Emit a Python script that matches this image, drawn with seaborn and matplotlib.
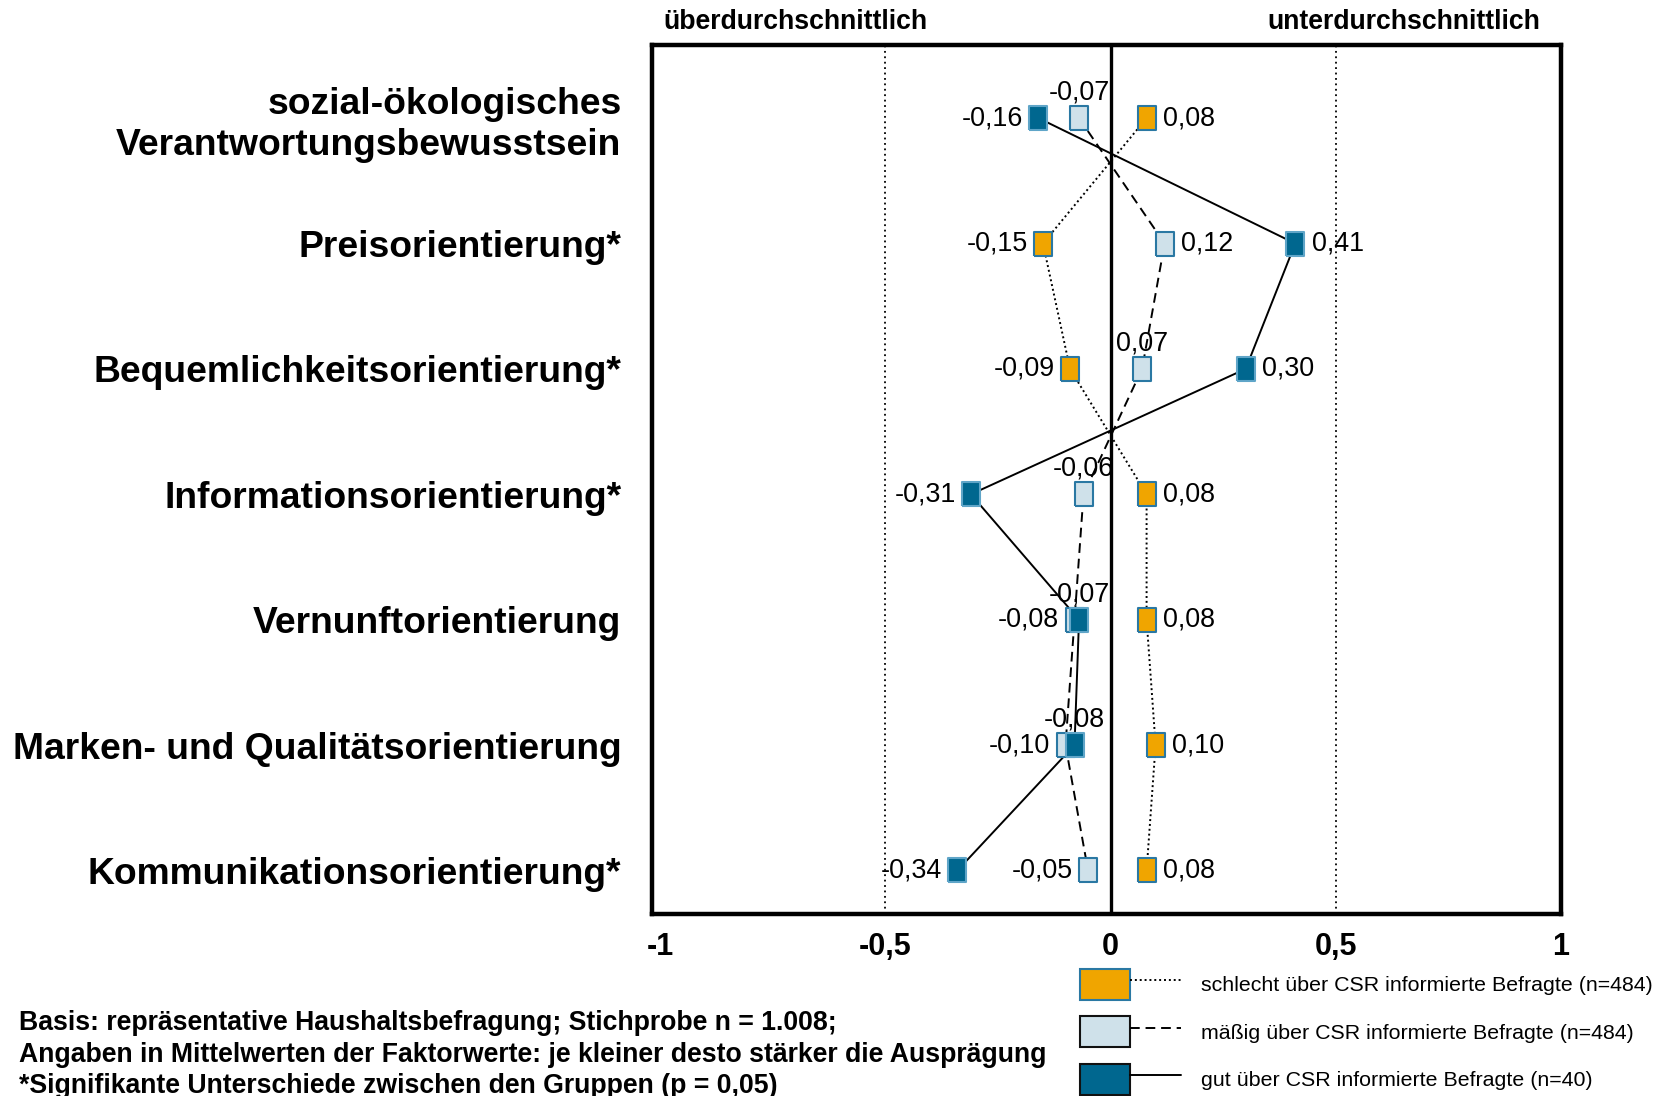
import numpy as np
import pandas as pd
import matplotlib
matplotlib.use("Agg")
import matplotlib.pyplot as plt
import seaborn as sns
from matplotlib.patches import Patch
from matplotlib.lines import Line2D
from matplotlib.legend_handler import HandlerTuple

# ---------------- data ----------------
categories = [
    "sozial-ökologisches\nVerantwortungsbewusstsein",
    "Preisorientierung*",
    "Bequemlichkeitsorientierung*",
    "Informationsorientierung*",
    "Vernunftorientierung",
    "Marken- und Qualitätsorientierung",
    "Kommunikationsorientierung*",
]
schlecht = [0.08, -0.15, -0.09, 0.08, 0.08, 0.10, 0.08]
maessig = [-0.07, 0.12, 0.07, -0.06, -0.08, -0.10, -0.05]
gut = [-0.16, 0.41, 0.30, -0.31, -0.07, -0.08, -0.34]

series_names = [
    "schlecht über CSR informierte Befragte (n=484)",
    "mäßig über CSR informierte Befragte (n=484)",
    "gut über CSR informierte Befragte (n=40)",
]
# label placement per value: l = left, r = right, t = above
place_schlecht = ["r", "l", "l", "r", "r", "r", "r"]
place_maessig = ["t", "r", "t", "t", "l", "l", "l"]
place_gut = ["l", "r", "r", "l", "t", "t", "l"]

xticks = [-1, -0.5, 0, 0.5, 1]
xtick_labels = ["-1", "-0,5", "0", "0,5", "1"]

# ---------------- style ----------------
fill_colors = ["#F0A500", "#CFE1EA", "#00678F"]
edge_colors = ["#2A78A3", "#2A78A3", "#5FA5C8"]
line_styles = [(0, (1, 1.5)), (0, (5, 3)), "-"]
legend_edges = ["#2A78A3", "#111111", "#111111"]

sns.set_theme(style="white")
plt.rcParams["font.family"] = ["Liberation Sans", "DejaVu Sans"]
for key in ["text.color", "axes.labelcolor", "xtick.color", "ytick.color"]:
    plt.rcParams[key] = "black"

fig = plt.figure(figsize=(16.6, 10.96), dpi=100)
ax = fig.add_axes([652 / 1660, 1 - 914 / 1096, (1561 - 652) / 1660, (914 - 45) / 1096])

rows = []
for name, vals in zip(series_names, [schlecht, maessig, gut]):
    for i, v in enumerate(vals):
        rows.append({"group": name, "value": v, "pos": i})
df = pd.DataFrame(rows)

verts = [(-0.37, -0.5), (0.37, -0.5), (0.37, 0.5), (-0.37, 0.5), (-0.37, -0.5)]

# reference lines
ax.axvline(0, color="black", lw=2.4, zorder=1)
for xv in (-0.5, 0.5):
    ax.axvline(xv, color="black", lw=1.3, ls=(0, (1, 2)), zorder=1)

for k, name in enumerate(series_names):
    sub = df[df["group"] == name]
    sns.lineplot(data=sub, x="value", y="pos", orient="y", sort=False,
                 color="black", lw=1.4, linestyle=line_styles[k], ax=ax,
                 zorder=2, legend=False, estimator=None)
for k, name in enumerate(series_names):
    sub = df[df["group"] == name]
    sns.scatterplot(data=sub, x="value", y="pos", marker=verts, s=320,
                    color=fill_colors[k], edgecolor=edge_colors[k],
                    linewidth=1.5, ax=ax, zorder=4, legend=False)

# value labels
def fmt(v):
    return ("%.2f" % v).replace(".", ",")

for vals, places in [(schlecht, place_schlecht), (maessig, place_maessig), (gut, place_gut)]:
    for i, (v, p) in enumerate(zip(vals, places)):
        if p == "l":
            kw = dict(xytext=(-11, 0), ha="right", va="center")
        elif p == "r":
            kw = dict(xytext=(12, 0), ha="left", va="center")
        else:
            kw = dict(xytext=(0, 9), ha="center", va="bottom")
        ax.annotate(fmt(v), (v, i), textcoords="offset points", fontsize=19.4,
                    color="black", zorder=5, **kw)

ax.set_xlim(-1.018, 0.994)
ax.set_ylim(6.347, -0.583)
ax.set_xticks(xticks)
ax.set_xticklabels(xtick_labels, fontsize=22, fontweight="bold")
ax.set_yticks(range(len(categories)))
ax.set_yticklabels(categories, fontsize=26.8, fontweight="bold")
ax.tick_params(axis="x", length=0, pad=13)
ax.tick_params(axis="y", length=0, pad=22)
ax.set_xlabel("")
ax.set_ylabel("")
for sp in ax.spines.values():
    sp.set_visible(True)
    sp.set_color("black")
    sp.set_linewidth(3.2)

# top labels
fig.text(663 / 1660, 1 - 22 / 1096, "überdurchschnittlich", fontsize=19.2,
         fontweight="bold", ha="left", va="center")
fig.text(1540 / 1660, 1 - 22 / 1096, "unterdurchschnittlich", fontsize=19.2,
         fontweight="bold", ha="right", va="center")

# footnote
notes = [
    "Basis: repräsentative Haushaltsbefragung; Stichprobe n = 1.008;",
    "Angaben in Mittelwerten der Faktorwerte: je kleiner desto stärker die Ausprägung",
    "*Signifikante Unterschiede zwischen den Gruppen (p = 0,05)",
]
for j, t in enumerate(notes):
    fig.text(19 / 1660, 1 - (1023 + 31.5 * j) / 1096, t, fontsize=19.2,
             fontweight="bold", ha="left", va="center")

# legend
handles = []
for k in range(3):
    handles.append((Patch(facecolor=fill_colors[k], edgecolor=legend_edges[k], lw=1.5),
                    Line2D([], [], color="black", lw=1.4, linestyle=line_styles[k])))
fig.legend(handles, series_names, handler_map={tuple: HandlerTuple(ndivide=None, pad=0)},
           loc="upper left", bbox_to_anchor=(1080 / 1660, 1 - 969 / 1096),
           frameon=False, fontsize=15.4, handlelength=4.7, handleheight=1.85,
           labelspacing=0.77, handletextpad=0.95, borderpad=0, borderaxespad=0)

fig.savefig("out.png", dpi=100)
